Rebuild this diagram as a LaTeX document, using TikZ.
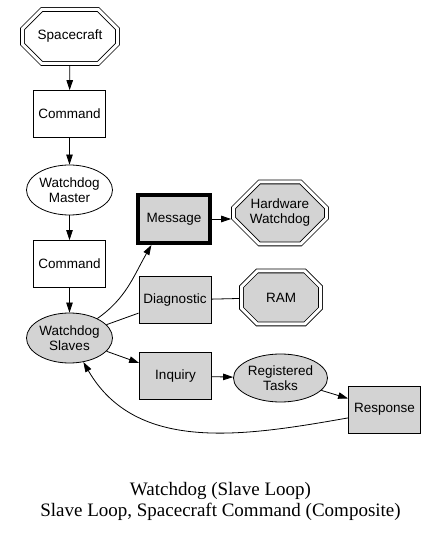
\documentclass[tikz,border=0pt]{standalone}
\usepackage{fontspec}
\setmainfont{Liberation Serif}
\newfontfamily\gvsans{Liberation Sans}
\usepackage{xcolor}
\usepackage{tikz}
\usetikzlibrary{shapes,shapes.misc,arrows.meta,positioning}
\definecolor{gvgray}{RGB}{211,211,211}
\newcommand{\gvfont}{\gvsans\fontsize{13.5}{15}\selectfont}

\begin{document}
\begin{tikzpicture}[x=1pt, y=1pt,
  box/.style={rectangle, draw, line width=0.8pt, font=\gvfont,
              minimum width=72pt, minimum height=47pt, align=center},
  gbox/.style={box, fill=gvgray},
  oval/.style={ellipse, draw, line width=0.8pt, font=\gvfont,
               minimum width=86pt, minimum height=50pt, inner sep=0pt,
               align=center},
  goval/.style={oval, fill=gvgray},
  octo/.style={chamfered rectangle, draw, double, double distance=3pt,
               line width=0.8pt, outer sep=2.3pt, inner sep=0pt,
               font=\gvfont, align=center},
  arr/.style={->, >={Triangle[length=10pt,width=6.5pt]}, line width=0.8pt},
  lnk/.style={line width=0.8pt},
  captext/.style={font=\fontsize{19}{21}\selectfont, align=center}
]
\useasboundingbox (0,0) rectangle (439,533);

\node[octo, minimum width=95pt, minimum height=54pt,
      chamfered rectangle xsep=26pt, chamfered rectangle ysep=13pt]
                  (sc)     at (70,496.5)  {Spacecraft};
\node[box]        (cmdA)   at (69.5,419)  {Command};
\node[oval]       (master) at (69.5,343)  {Watchdog\\Master};
\node[box]        (cmdB)   at (69.5,269)  {Command};
\node[goval]      (slaves) at (69.5,195)  {Watchdog\\Slaves};
\node[gbox, line width=4pt, minimum width=72pt, minimum height=48pt]
                  (msg)    at (174,314)   {Message};
\node[octo, fill=gvgray, minimum width=93pt, minimum height=62pt,
      chamfered rectangle xsep=25pt, chamfered rectangle ysep=12pt]
                  (hw)     at (280,320)   {Hardware\\Watchdog};
\node[gbox]       (diag)   at (175,233)   {Diagnostic};
\node[octo, fill=gvgray, minimum width=79pt, minimum height=53pt,
      chamfered rectangle xsep=21pt, chamfered rectangle ysep=11pt]
                  (ram)    at (281,235.5) {RAM};
\node[gbox]       (inq)    at (175.5,157) {Inquiry};
\node[goval, minimum width=94pt, minimum height=48pt]
                  (rt)     at (280.5,155) {Registered\\Tasks};
\node[gbox]       (resp)   at (384.5,123.5) {Response};

\node[captext] (title) at (220.5,32)
  {Watchdog (Slave Loop)\\Slave Loop, Spacecraft Command (Composite)};

\draw[arr] (sc)     -- (cmdA);
\draw[arr] (cmdA)   -- (master);
\draw[arr] (master) -- (cmdB);
\draw[arr] (cmdB)   -- (slaves);
\draw[arr] (slaves.35) to[out=35,in=240] (msg.229);
\draw[arr] (msg.east) -- (msg.east -| hw.west);
\draw[lnk] (slaves) -- (diag);
\draw[lnk] (diag)   -- (ram);
\draw[arr] (slaves) -- (inq);
\draw[arr] (inq)    -- (rt);
\draw[arr] (rt)     -- (resp);
\draw[arr] (resp.193) to[out=190,in=-60] (slaves.-60);
\end{tikzpicture}
\end{document}
